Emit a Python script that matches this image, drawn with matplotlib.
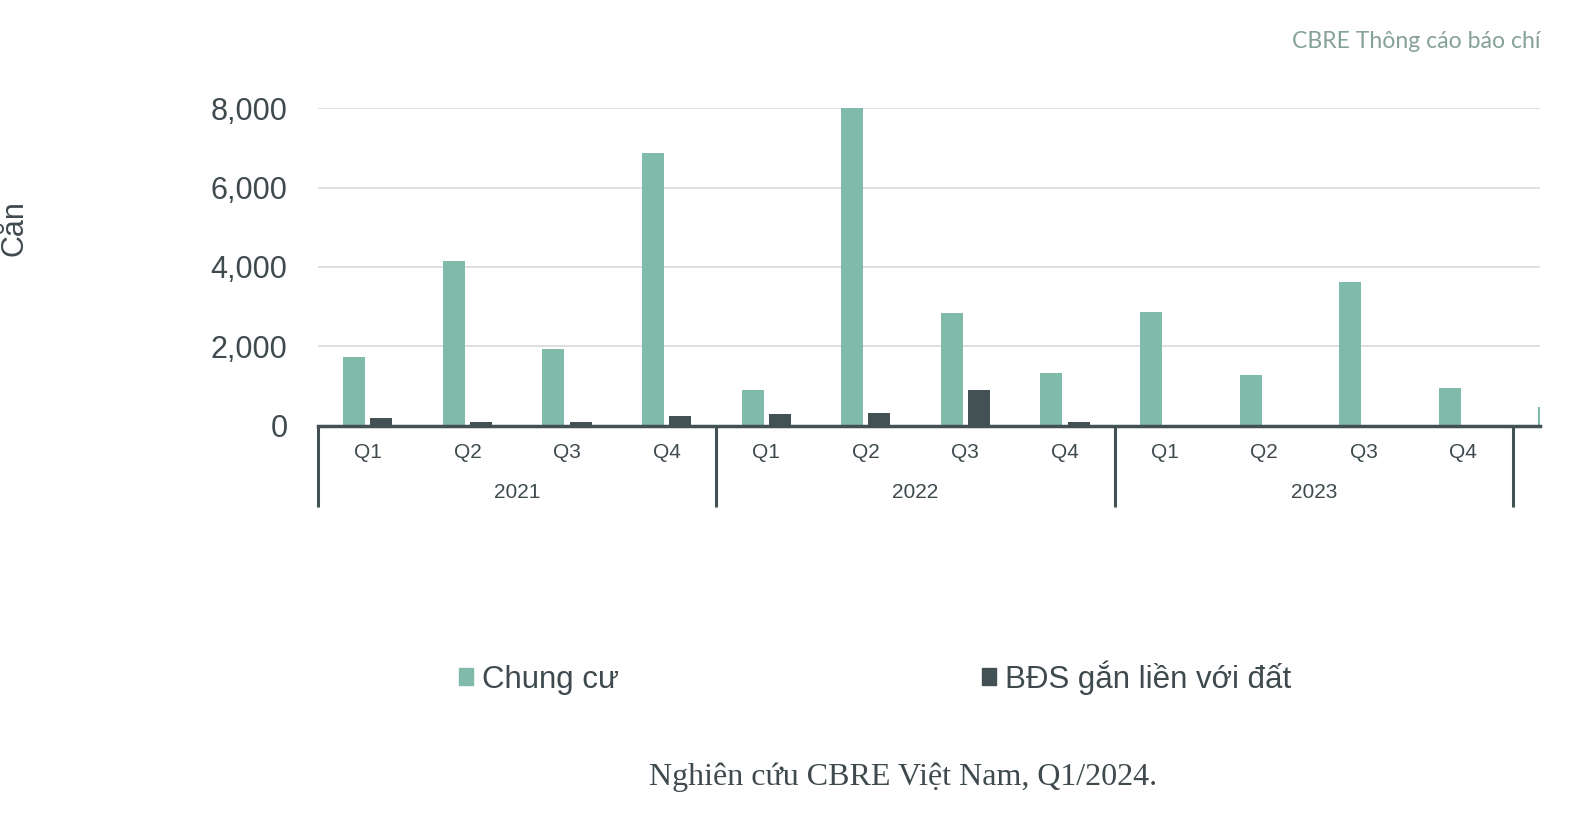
import numpy as np
import matplotlib
matplotlib.use("Agg")
import matplotlib.pyplot as plt
from matplotlib.patches import Patch
from matplotlib.ticker import FuncFormatter

# so can chao ban theo quy, Ha Noi (doc tu hinh)
quarters = ["Q1", "Q2", "Q3", "Q4"] * 3
years = ["2021", "2022", "2023"]
chung_cu = [1720, 4150, 1920, 6880, 890, 8020, 2840, 1320, 2860, 1270, 3620, 960, 470]
bds_dat = [180, 100, 100, 230, 280, 320, 890, 100, 0, 0, 0, 0, 0]

c_green = "#7fbaab"
c_dark = "#435154"
c_text = "#3e4a4e"

plt.rcParams["font.family"] = ["Liberation Sans", "DejaVu Sans"]

fig = plt.figure(figsize=(15.74, 8.27), dpi=100)
ax = fig.add_axes([318 / 1574, 1 - 425.6 / 827, (1540 - 318) / 1574, (425.6 - 108.4) / 827])

x = np.arange(len(chung_cu))
w = 0.22
off = 0.137
ax.bar(x - off, chung_cu, w, color=c_green, zorder=3)
ax.bar(x + off, bds_dat, w, color=c_dark, zorder=3)

ax.set_xlim(-0.5, -0.5 + (1540 - 318) / 99.6)
ax.set_ylim(0, 8000)
ax.set_yticks([0, 2000, 4000, 6000, 8000])
ax.yaxis.set_major_formatter(FuncFormatter(lambda v, p: f"{int(v):,}"))
ax.tick_params(axis="y", length=0, pad=22, labelsize=22, labelcolor=c_text)
ax.set_xticks([])
ax.grid(axis="y", color="#d9d9d9", linewidth=1.2, zorder=0)
for s in ["top", "right", "left"]:
    ax.spines[s].set_visible(False)
ax.spines["bottom"].set_color(c_dark)
ax.spines["bottom"].set_linewidth(2.5)
ax.spines["bottom"].set_zorder(4)

trans = ax.get_xaxis_transform()
for i, q in enumerate(quarters):
    ax.text(i, -0.085, q, transform=trans, ha="center", va="center",
            fontsize=15, color=c_text, clip_on=False)
for k, yr in enumerate(years):
    ax.text(4 * k + 1.5, -0.212, yr, transform=trans, ha="center", va="center",
            fontsize=15, color=c_text, clip_on=False)
for b in [-0.5, 3.5, 7.5, 11.5]:
    ax.plot([b, b], [0, -0.256], transform=trans, color=c_dark, linewidth=2.2,
            clip_on=False, solid_capstyle="butt")

fig.text(14 / 1574, 1 - 228 / 827, "Căn", rotation=90, ha="center", va="center",
         fontsize=22, color=c_text)

handles = [Patch(color=c_green, label="Chung cư"), Patch(color=c_dark, label="BĐS gắn liền với đất")]
fig.legend(handles=handles, loc="center", bbox_to_anchor=(0.556, 0.181), ncol=2, frameon=False,
           fontsize=22.5, handlelength=0.45, handleheight=0.45, handletextpad=0.3,
           columnspacing=11.6, labelcolor=c_text)

fig.text(1541 / 1574, 1 - 41 / 827, "CBRE Thông cáo báo chí", ha="right", va="center",
         fontsize=16.6, color="#86a09a", family=["Lato", "DejaVu Sans"])

fig.text(0.574, 1 - 777 / 827, "Nghiên cứu CBRE Việt Nam, Q1/2024.", ha="center", va="center",
         fontsize=23, color=c_text, family=["Liberation Serif", "DejaVu Serif"])

fig.savefig("out.png", dpi=100, facecolor="white")
